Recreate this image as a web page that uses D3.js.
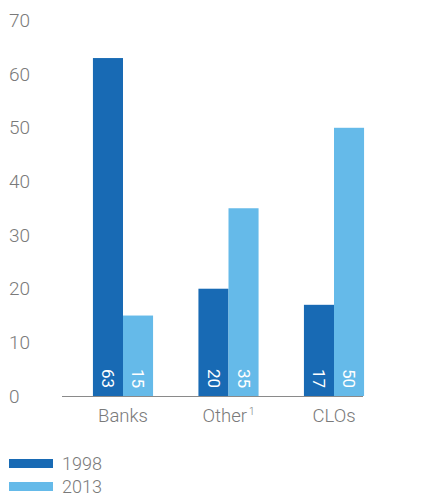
<!DOCTYPE html>
<html><head><meta charset="utf-8">
<script src="https://cdn.jsdelivr.net/npm/d3@7"></script>
<style>
html,body{margin:0;padding:0;background:#fff;}
svg{display:block;font-family:Roboto, "Liberation Sans", sans-serif;font-weight:300;}
</style></head>
<body>
<svg id="c" width="441" height="493"></svg>
<script>
const categories = ["Banks", "Other", "CLOs"];
const categorySup = ["", "1", ""];
const seriesNames = ["1998", "2013"];
const values1998 = [63, 20, 17];
const values2013 = [15, 35, 50];
const yTicks = [0, 10, 20, 30, 40, 50, 60, 70];
const colors = ["#186ab4", "#65bae9"];

const svg = d3.select("#c");
const y = d3.scaleLinear().domain([0, 70]).range([396, 20.5]);
const x = d3.scaleBand().domain(categories).range([70.25, 386.75]).paddingInner(0.43).paddingOuter(0.215);
const xs = d3.scaleBand().domain(seriesNames).range([0, x.bandwidth()]);
const seriesVals = [values1998, values2013];

// y tick labels
svg.append("g").selectAll("text").data(yTicks).join("text")
  .attr("x", 9).attr("y", d => y(d)).attr("dy", "0.35em")
  .attr("font-size", 19).attr("fill", "#7a7a7a").text(d => d);

// bars
seriesNames.forEach((s, si) => {
  const g = svg.append("g");
  categories.forEach((c, ci) => {
    const v = seriesVals[si][ci];
    const bx = x(c) + xs(s);
    g.append("rect").attr("x", bx).attr("y", y(v))
      .attr("width", xs.bandwidth()).attr("height", y(0) - y(v)).attr("fill", colors[si]);
    g.append("text")
      .attr("transform", `translate(${bx + xs.bandwidth() / 2},${y(0) - 8}) rotate(90)`)
      .attr("text-anchor", "end").attr("dy", "0.35em")
      .attr("font-size", 17).attr("font-weight", 400).attr("fill", "#fff").text(v);
  });
});

// axis line
svg.append("line").attr("x1", 62).attr("x2", 363).attr("y1", y(0) + 0.5).attr("y2", y(0) + 0.5)
  .attr("stroke", "#8a8a8a").attr("stroke-width", 1.2);

// category labels
const cl = svg.append("g").selectAll("text").data(categories).join("text")
  .attr("x", d => x(d) + x.bandwidth() / 2).attr("y", 422)
  .attr("text-anchor", "middle").attr("font-size", 18.5).attr("fill", "#7a7a7a");
cl.append("tspan").text(d => d);
cl.append("tspan").attr("font-size", 10).attr("dy", -7).attr("dx", 2)
  .text((d, i) => categorySup[i]);

// legend
seriesNames.forEach((s, i) => {
  const cy = 463.5 + i * 23;
  svg.append("rect").attr("x", 9).attr("y", cy - 4.5).attr("width", 44).attr("height", 9).attr("fill", colors[i]);
  svg.append("text").attr("x", 62).attr("y", cy).attr("dy", "0.35em")
    .attr("font-size", 18).attr("fill", "#7a7a7a").text(s);
});
</script>
</body></html>
